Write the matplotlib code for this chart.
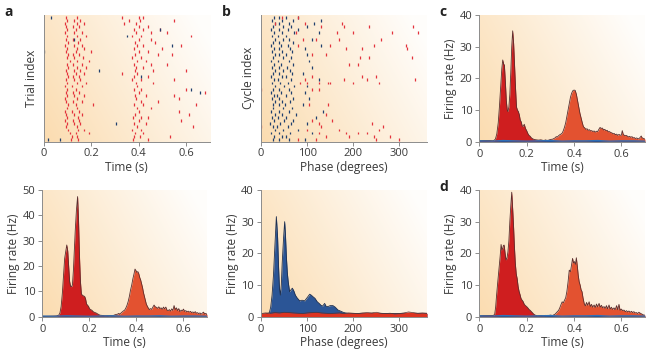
import numpy as np
import matplotlib
matplotlib.use("Agg")
import matplotlib.pyplot as plt

plt.rcParams['font.family'] = ['Open Sans', 'DejaVu Sans']

# ---------------- data ----------------
# Panel a raster: spike times (s) per trial (index 0 = bottom)
a_red = [
    [0.115, 0.145, 0.375, 0.44],
    [0.12, 0.14, 0.38, 0.405, 0.53],
    [0.11, 0.135, 0.19, 0.385, 0.42],
    [0.105, 0.145, 0.17, 0.37, 0.41],
    [0.095, 0.14, 0.395, 0.63],
    [0.10, 0.13, 0.155, 0.38, 0.43],
    [0.09, 0.125, 0.15, 0.40, 0.58],
    [0.10, 0.145, 0.375, 0.41, 0.44],
    [0.095, 0.13, 0.16, 0.385, 0.61],
    [0.09, 0.12, 0.15, 0.40, 0.57],
    [0.10, 0.14, 0.395, 0.45],
    [0.105, 0.135, 0.21, 0.38, 0.42, 0.64],
    [0.095, 0.125, 0.16, 0.41, 0.48],
    [0.09, 0.14, 0.39, 0.57],
    [0.10, 0.13, 0.17, 0.385, 0.43, 0.55],
    [0.095, 0.125, 0.15, 0.40, 0.68],
    [0.10, 0.135, 0.38, 0.41, 0.60],
    [0.09, 0.12, 0.16, 0.395],
    [0.10, 0.14, 0.18, 0.39, 0.46],
    [0.095, 0.13, 0.155, 0.37, 0.41, 0.55],
    [0.105, 0.125, 0.15, 0.38, 0.44],
    [0.10, 0.135, 0.17, 0.33, 0.395],
    [0.095, 0.13, 0.155, 0.385, 0.46, 0.60],
    [0.105, 0.14, 0.18, 0.39, 0.42],
    [0.10, 0.125, 0.16, 0.38, 0.45, 0.52],
    [0.11, 0.14, 0.19, 0.395, 0.43],
    [0.10, 0.13, 0.165, 0.37, 0.41],
    [0.105, 0.125, 0.15, 0.385, 0.48, 0.54],
    [0.095, 0.135, 0.20, 0.40, 0.44],
    [0.10, 0.14, 0.17, 0.38, 0.50],
    [0.09, 0.13, 0.16, 0.395, 0.42, 0.58],
    [0.105, 0.145, 0.385, 0.47],
    [0.095, 0.125, 0.155, 0.40, 0.45],
    [0.10, 0.14, 0.18, 0.37, 0.41, 0.62],
    [0.09, 0.13, 0.16, 0.39, 0.45, 0.52],
    [0.10, 0.135, 0.38, 0.42, 0.49],
    [0.095, 0.125, 0.15, 0.40, 0.44],
    [0.09, 0.14, 0.17, 0.34, 0.39],
    [0.10, 0.13, 0.155, 0.36, 0.405, 0.55],
    [0.095, 0.14, 0.33, 0.40, 0.42],
]
a_blue_trial = [39, 35, 33, 30, 28, 22, 20, 16, 15, 5, 0, 0, 32]
a_blue_time = [0.03, 0.49, 0.35, 0.54, 0.0, 0.235, 0.41, 0.62, 0.66, 0.305, 0.02, 0.07, 0.13]

# Panel b raster: spike phases (deg) per cycle
b_blue = [
    [25, 40, 60, 95], [28, 45, 55], [22, 38, 62, 110], [30, 48, 80],
    [25, 35, 58], [20, 42, 65, 100], [28, 50, 70], [24, 36, 55, 120],
    [30, 45, 75], [22, 40, 60, 135], [27, 48, 68], [25, 38, 52, 90],
    [30, 45, 62], [24, 40, 70, 105], [28, 35, 55], [22, 44, 65, 95],
    [26, 38, 60], [30, 50, 72, 100], [24, 42, 58], [28, 36, 64, 125],
    [22, 45, 55], [26, 40, 68, 90], [30, 48, 62], [24, 38, 57, 110],
    [28, 44, 70], [22, 36, 60, 105], [26, 48, 65], [30, 40, 55, 100],
    [24, 46, 68], [28, 38, 62, 95], [22, 44, 58, 130], [26, 40, 70],
    [30, 48, 60, 110], [24, 36, 55], [28, 45, 72, 125], [22, 40, 58, 80],
    [26, 48, 65, 100], [30, 38, 60, 115], [24, 45, 70, 130], [28, 40, 55, 80],
]
b_red = [
    [80, 120, 250, 300], [140, 190, 245, 280], [125, 185, 210, 230], [100, 170, 255],
    [0, 130, 265], [125, 240], [110, 155], [], [140], [], [], [105, 145], [], [], [],
    [], [0, 110, 125], [], [85, 100, 125, 145, 150, 200, 255], [95, 180, 230, 335],
    [110, 220, 250], [], [], [], [190, 210], [], [215, 235, 328], [110, 140], [],
    [185, 220, 316], [80, 150, 245, 315], [], [90, 120, 170, 260], [],
    [75, 165, 200, 285, 340], [], [130, 180, 235, 330], [30, 95, 175], [], [45, 80],
]

# Rate, bottom panel a (Hz) -- early (dark) and late (light) parts
ra_t1 = [0.0, 0.03, 0.06, 0.07, 0.075, 0.08, 0.085, 0.09, 0.095, 0.1, 0.104, 0.108, 0.112, 0.116,
         0.12, 0.124, 0.128, 0.132, 0.136, 0.14, 0.145, 0.15, 0.154, 0.158, 0.162, 0.166, 0.17,
         0.175, 0.18, 0.184, 0.188, 0.192, 0.197, 0.2, 0.205, 0.21, 0.216, 0.222, 0.228, 0.235,
         0.245, 0.255, 0.265, 0.28]
ra_r1 = [0.1, 0.2, 0.3, 0.6, 1.5, 4, 9, 16, 23, 26, 28.3, 26, 20, 14, 12, 11.8, 12.5, 18, 26, 34,
         42, 47.4, 38, 24, 14, 9, 8.5, 8.2, 8.0, 7.0, 5.0, 4.6, 4.0, 3.2, 2.8, 2.6, 2.0, 1.7, 1.5,
         1.1, 0.6, 0.5, 0.4, 0.4]
ra_t2 = [0.28, 0.29, 0.3, 0.31, 0.32, 0.325, 0.33, 0.335, 0.34, 0.345, 0.35, 0.355, 0.36, 0.365,
         0.37, 0.375, 0.38, 0.385, 0.39, 0.394, 0.398, 0.402, 0.406, 0.41, 0.414, 0.418, 0.422,
         0.426, 0.43, 0.434, 0.438, 0.442, 0.446, 0.45, 0.455, 0.46, 0.465, 0.47, 0.475, 0.48,
         0.485, 0.49, 0.495, 0.5, 0.505, 0.51, 0.515, 0.52, 0.525, 0.53, 0.535, 0.54, 0.545, 0.55,
         0.555, 0.56, 0.565, 0.57, 0.575, 0.58, 0.585, 0.59, 0.595, 0.6, 0.605, 0.61, 0.615, 0.62,
         0.625, 0.63, 0.635, 0.64, 0.645, 0.65, 0.655, 0.66, 0.665, 0.67, 0.675, 0.68, 0.685, 0.69,
         0.695, 0.7]
ra_r2 = [0.3, 0.5, 0.4, 0.8, 1.0, 1.3, 1.0, 1.5, 1.9, 2.3, 2.6, 3.4, 4.5, 6.0, 8.0, 10.5, 12.5, 15,
         17, 18.8, 18.2, 17.5, 17.8, 17.0, 15.5, 14.5, 13, 11.5, 9.5, 8, 6.5, 5, 4.2, 3.5, 2.8, 3.2,
         2.9, 3.8, 4.6, 3.9, 3.7, 3.3, 3.9, 3.2, 3.5, 2.9, 3.8, 3.1, 3.8, 2.6, 2.4, 2.8, 2.2, 3.1,
         2.5, 4.4, 2.8, 3.5, 2.4, 3.2, 2.0, 2.6, 2.3, 3.0, 2.1, 2.4, 1.9, 2.2, 1.8, 2.1, 1.6, 1.9,
         1.5, 2.0, 1.4, 1.6, 1.2, 1.5, 1.0, 1.4, 1.8, 1.1, 1.3, 0.9]

# Rate, panel c
rc_t1 = [0.0, 0.03, 0.06, 0.068, 0.074, 0.08, 0.085, 0.09, 0.095, 0.099, 0.103, 0.106, 0.11, 0.114,
         0.118, 0.121, 0.125, 0.129, 0.133, 0.137, 0.141, 0.145, 0.149, 0.153, 0.157, 0.161, 0.165,
         0.169, 0.173, 0.177, 0.181, 0.185, 0.19, 0.195, 0.2, 0.205, 0.21, 0.215, 0.22, 0.226,
         0.232, 0.24, 0.25, 0.26, 0.27, 0.28]
rc_r1 = [0.3, 0.4, 0.3, 0.8, 2.5, 6, 11, 17, 23, 25.8, 24.5, 24.2, 19, 13, 10, 9.5, 11, 15, 22, 30,
         35, 31, 24, 17, 11, 10, 9.5, 8.5, 6.8, 6.3, 5.0, 4.8, 5.5, 4.2, 3.5, 2.6, 2.0, 1.7, 1.2,
         0.9, 0.7, 0.6, 0.5, 0.6, 0.4, 0.5]
rc_t2 = [0.28, 0.29, 0.3, 0.31, 0.32, 0.325, 0.33, 0.335, 0.34, 0.345, 0.35, 0.355, 0.36, 0.365,
         0.37, 0.375, 0.38, 0.385, 0.39, 0.395, 0.4, 0.405, 0.41, 0.415, 0.42, 0.425, 0.43, 0.435,
         0.44, 0.445, 0.45, 0.455, 0.46, 0.465, 0.47, 0.475, 0.48, 0.485, 0.49, 0.495, 0.5, 0.505,
         0.51, 0.515, 0.52, 0.525, 0.53, 0.535, 0.54, 0.545, 0.55, 0.555, 0.56, 0.565, 0.57, 0.575,
         0.58, 0.585, 0.59, 0.595, 0.6, 0.604, 0.608, 0.615, 0.62, 0.625, 0.63, 0.635, 0.64, 0.645,
         0.65, 0.655, 0.66, 0.665, 0.67, 0.675, 0.68, 0.684, 0.688, 0.695, 0.7]
rc_r2 = [0.5, 0.4, 0.7, 0.8, 1.2, 1.6, 1.5, 1.9, 2.2, 2.4, 2.7, 3.5, 4.6, 6, 8, 10, 12, 14, 15.3,
         16.1, 16.3, 16.2, 15, 13, 11, 9, 7.5, 6, 4.7, 4.4, 3.9, 4.1, 3.6, 3.8, 3.4, 3.5, 3.2, 3.4,
         3.0, 3.3, 3.2, 3.9, 4.5, 4.2, 4.3, 3.7, 3.9, 3.5, 3.6, 3.1, 3.2, 2.9, 2.8, 2.5, 2.6, 2.2,
         2.4, 2.0, 2.3, 2.1, 2.0, 3.5, 2.3, 1.9, 2.0, 1.8, 1.5, 1.7, 1.4, 1.6, 1.2, 1.3, 1.0, 1.2,
         0.9, 1.0, 1.4, 1.8, 1.2, 1.0, 0.8]

# Rate, panel d
rd_t1 = [0.0, 0.03, 0.06, 0.065, 0.069, 0.073, 0.078, 0.083, 0.088, 0.092, 0.096, 0.099, 0.102,
         0.105, 0.109, 0.113, 0.117, 0.121, 0.125, 0.129, 0.133, 0.137, 0.141, 0.145, 0.148, 0.152,
         0.156, 0.16, 0.164, 0.168, 0.172, 0.176, 0.18, 0.185, 0.19, 0.195, 0.2, 0.205, 0.21, 0.215,
         0.22, 0.225, 0.23, 0.236, 0.245, 0.26, 0.27, 0.28]
rd_r1 = [0.3, 0.4, 0.4, 0.8, 3, 6.8, 11, 15, 19, 22.8, 21, 21.6, 22.5, 22.6, 20, 17.9, 18.5, 20.5,
         24, 30, 35, 39.3, 34, 28, 22.6, 17, 13.5, 12, 9.5, 8, 7, 5.8, 5.3, 4.8, 3.9, 3.5, 3.2, 2.8,
         2.3, 2.0, 1.6, 1.2, 0.8, 0.5, 0.3, 0.4, 0.3, 0.4]
rd_t2 = [0.28, 0.29, 0.3, 0.31, 0.32, 0.325, 0.33, 0.335, 0.34, 0.345, 0.35, 0.355, 0.36, 0.365,
         0.37, 0.375, 0.38, 0.385, 0.39, 0.394, 0.398, 0.402, 0.406, 0.41, 0.414, 0.418, 0.422,
         0.426, 0.43, 0.434, 0.438, 0.443, 0.448, 0.453, 0.458, 0.464, 0.469, 0.474, 0.479, 0.485,
         0.49, 0.495, 0.5, 0.506, 0.511, 0.516, 0.521, 0.527, 0.532, 0.537, 0.542, 0.548, 0.553,
         0.558, 0.563, 0.569, 0.574, 0.58, 0.585, 0.59, 0.595, 0.6, 0.606, 0.611, 0.617, 0.622,
         0.627, 0.632, 0.638, 0.643, 0.648, 0.653, 0.658, 0.664, 0.669, 0.674, 0.68, 0.685, 0.69,
         0.695, 0.7]
rd_r2 = [0.4, 0.3, 0.5, 0.4, 0.8, 1.2, 1.6, 2.0, 2.8, 3.8, 4.7, 4.4, 5.2, 6.0, 8, 11, 14.7, 14.2,
         16.5, 18.4, 17.0, 17.4, 16.5, 18.6, 16, 13, 11, 10, 8.5, 7.9, 6, 4.2, 3.4, 4.5, 3.6, 4.7,
         3.2, 3.9, 3.0, 3.7, 2.9, 4.0, 3.1, 4.2, 3.0, 3.6, 2.8, 3.2, 2.6, 3.5, 2.5, 3.7, 2.4, 3.0,
         2.3, 2.8, 2.2, 3.5, 2.2, 3.9, 2.0, 2.4, 1.9, 2.1, 1.6, 1.9, 1.5, 1.8, 1.4, 1.7, 1.3, 1.6,
         1.2, 1.3, 1.0, 1.4, 1.1, 0.9, 0.7, 0.5, 0.5]

# blue baseline rate under time histograms
blue_t = [0.0, 0.05, 0.1, 0.15, 0.2, 0.25, 0.3, 0.35, 0.4, 0.45, 0.5, 0.55, 0.6, 0.65, 0.7]
blue_r = [0.3, 0.2, 0.4, 0.3, 0.2, 0.3, 0.4, 0.2, 0.3, 0.3, 0.4, 0.2, 0.3, 0.3, 0.2]

# Rate vs phase (bottom panel b)
pb_ph = [0, 10, 18, 21, 24, 27, 30, 33.3, 36, 38, 40, 42, 44, 46, 49, 51.3, 53, 55, 57, 59, 62,
         65, 68, 71, 74.5, 78, 83.9, 89, 94.7, 100, 105.6, 109, 112.8, 117, 122, 126, 130.8, 134,
         138, 141, 145.3, 150, 156, 161, 167, 172, 178, 183, 188.7, 200, 220, 240, 260, 280, 300,
         320, 340, 360]
pb_blue = [0.8, 0.9, 1.2, 3, 6.8, 13, 22, 31.6, 25, 16, 9, 6.8, 10, 17, 25, 30, 26, 19, 14, 11,
           7.9, 8.5, 9.0, 8.2, 6.8, 6, 5, 5.2, 5, 6, 7.1, 6.8, 6.3, 5.8, 4.7, 4.2, 3.5, 3.4, 4.2,
           3.3, 3.2, 3.5, 3.5, 3.0, 2.1, 1.8, 1.4, 1.2, 1.05, 1.0, 1.0, 1.0, 1.0, 1.0, 1.0, 1.0,
           1.0, 1.0]
pr_ph = list(range(0, 361, 10))
pr_red = [1.0, 1.2, 1.1, 1.3, 1.2, 1.4, 1.3, 1.2, 1.1, 1.0, 1.2, 1.3, 1.4, 1.2, 1.1, 1.0, 1.1,
          1.2, 1.0, 1.2, 1.1, 1.0, 1.2, 1.3, 1.2, 1.4, 1.1, 1.0, 1.1, 0.9, 1.0, 1.2, 1.5, 1.3,
          1.1, 1.2, 1.1]

time_ticks = [0, 0.2, 0.4, 0.6]
time_labels = ['0', '0.2', '0.4', '0.6']
phase_ticks = [0, 100, 200, 300]

# ---------------- styling ----------------
W, H = 651, 356
fig = plt.figure(figsize=(W / 100, H / 100), dpi=100)

TXT = '#3a3a3a'
SPINE = '#8c8c8c'
RED_RASTER = '#e3323c'
BLUE_RASTER = '#1f3f6e'
DARK_RED = '#cf1e1f'
LIGHT_RED = '#e35230'
EDGE = '#5a2e2e'
BLUE_FILL = '#2b5596'
FS_TICK = 8.0
FS_LAB = 8.6


def px_axes(l, t, r, b):
    return fig.add_axes([l / W, 1 - b / H, (r - l) / W, (b - t) / H])


# background gradient: cream-orange bottom-left to near white top-right
gx = np.linspace(0, 1, 128)
gy = np.linspace(0, 1, 128)
GX, GY = np.meshgrid(gx, gy)
S = np.clip(1.0 - 0.72 * GX - 0.3 * GY, 0.05, 1)
c0 = np.array([1.0, 1.0, 1.0])
c1 = np.array([251, 220, 176]) / 255.0
grad = c0[None, None, :] * (1 - S[..., None]) + c1[None, None, :] * S[..., None]


def style(ax, xlim, ylim, xticks, xlabels, xlab, ylab, yticks=None, ylabpad=2):
    ax.imshow(grad, extent=[0, 1, 0, 1], transform=ax.transAxes, origin='lower',
              aspect='auto', zorder=0, interpolation='bilinear')
    ax.set_xlim(*xlim)
    ax.set_ylim(*ylim)
    for s in ['top', 'right']:
        ax.spines[s].set_visible(False)
    for s in ['left', 'bottom']:
        ax.spines[s].set_color(SPINE)
        ax.spines[s].set_linewidth(0.7)
        ax.spines[s].set_zorder(5)
    ax.set_xticks(xticks)
    ax.set_xticklabels(xlabels)
    ax.tick_params(axis='both', direction='out', length=3, width=0.7, color=SPINE,
                   labelsize=FS_TICK, labelcolor=TXT, pad=2)
    if yticks is None:
        ax.set_yticks([])
    else:
        ax.set_yticks(yticks)
        ax.set_yticklabels([str(v) for v in yticks])
    ax.set_xlabel(xlab, fontsize=FS_LAB, color=TXT, labelpad=1)
    ax.set_ylabel(ylab, fontsize=FS_LAB, color=TXT, labelpad=ylabpad)


# --- panel a raster ---
axA = px_axes(43.5, 15, 210, 141.5)
style(axA, (0, 0.7), (-0.7, 39.7), time_ticks, time_labels, 'Time (s)', 'Trial index',
      ylabpad=4)
for i, row in enumerate(a_red):
    axA.vlines(row, i - 0.45, i + 0.45, color=RED_RASTER, lw=0.9, zorder=3)
axA.vlines(a_blue_time, np.array(a_blue_trial) - 0.45, np.array(a_blue_trial) + 0.45,
           color=BLUE_RASTER, lw=0.9, zorder=3)

# --- panel b raster ---
axB = px_axes(261, 15, 427, 141.5)
style(axB, (0, 360), (-0.7, 39.7), phase_ticks, [str(v) for v in phase_ticks],
      'Phase (degrees)', 'Cycle index', ylabpad=4)
for i, row in enumerate(b_blue):
    axB.vlines(row, i - 0.45, i + 0.45, color=BLUE_RASTER, lw=0.9, zorder=3)
for i, row in enumerate(b_red):
    if row:
        axB.vlines(row, i - 0.45, i + 0.45, color=RED_RASTER, lw=0.9, zorder=3)


def rate_panel(ax, t1, r1, t2, r2):
    ax.fill_between(t1, 0, r1, color=DARK_RED, lw=0, zorder=2)
    ax.fill_between(t2, 0, r2, color=LIGHT_RED, lw=0, zorder=2)
    ax.plot(t1, r1, color=EDGE, lw=0.6, zorder=3)
    ax.plot(t2, r2, color=EDGE, lw=0.6, zorder=3)
    ax.fill_between(blue_t, 0, blue_r, color=BLUE_FILL, lw=0, zorder=4)
    ax.plot(blue_t, blue_r, color='#2f6fb5', lw=0.8, zorder=4)


# --- panel c ---
axC = px_axes(479.3, 15, 645, 141.7)
style(axC, (0, 0.7), (0, 40), time_ticks, time_labels, 'Time (s)', 'Firing rate (Hz)',
      yticks=[0, 10, 20, 30, 40])
rate_panel(axC, rc_t1, rc_r1, rc_t2, rc_r2)

# --- bottom a ---
axA2 = px_axes(42.3, 190, 207, 316.7)
style(axA2, (0, 0.7), (0, 50), time_ticks, time_labels, 'Time (s)', 'Firing rate (Hz)',
      yticks=[0, 10, 20, 30, 40, 50])
rate_panel(axA2, ra_t1, ra_r1, ra_t2, ra_r2)

# --- bottom b ---
axB2 = px_axes(261, 190, 427, 316.7)
style(axB2, (0, 360), (0, 40), phase_ticks, [str(v) for v in phase_ticks],
      'Phase (degrees)', 'Firing rate (Hz)', yticks=[0, 10, 20, 30, 40])
axB2.fill_between(pb_ph, 0, pb_blue, color=BLUE_FILL, lw=0, zorder=2)
axB2.plot(pb_ph, pb_blue, color='#1e2f4f', lw=0.6, zorder=3)
axB2.fill_between(pr_ph, 0, pr_red, color='#dd3320', lw=0, zorder=4)
axB2.plot(pr_ph, pr_red, color=EDGE, lw=0.5, zorder=4)

# --- panel d ---
axD = px_axes(479.3, 190, 645, 316.7)
style(axD, (0, 0.7), (0, 40), time_ticks, time_labels, 'Time (s)', 'Firing rate (Hz)',
      yticks=[0, 10, 20, 30, 40])
rate_panel(axD, rd_t1, rd_r1, rd_t2, rd_r2)

# panel letters
for lab, x, y in [('a', 4, 12), ('b', 222, 12), ('c', 439, 12), ('d', 439, 187)]:
    fig.text(x / W, 1 - y / H, lab, fontsize=10, fontweight='bold', color='#222222',
             va='center', ha='left')

fig.savefig('out.png', dpi=100)
